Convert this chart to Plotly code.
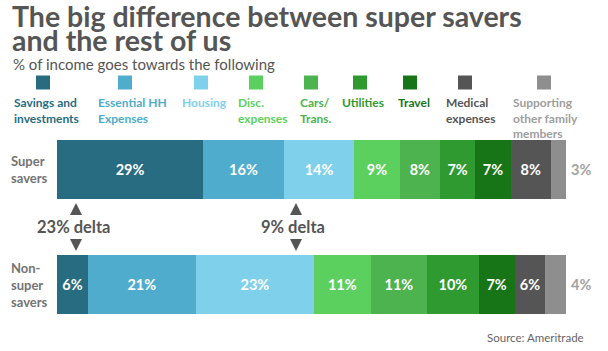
import plotly.graph_objects as go

categories = ["Savings and<br>investments", "Essential HH<br>Expenses", "Housing", "Disc.<br>expenses",
              "Cars/<br>Trans.", "Utilities", "Travel", "Medical<br>expenses",
              "Supporting<br>other family<br>members"]
rows = ["Super<br>savers", "Non-<br>super<br>savers"]
super_savers = [29, 16, 14, 9, 8, 7, 7, 8, 3]
non_super = [6, 21, 23, 11, 11, 10, 7, 6, 4]
colors = ["#276C80", "#4FACCC", "#7FD0EB", "#5CD05F", "#4DB34E", "#2E9A30", "#177517", "#555555", "#8E8E8E"]
label_colors = ["#276C80", "#4FACCC", "#7FD0EB", "#5CD05F", "#4DB34E", "#2E9A30", "#177517", "#555555", "#9E9E9E"]
title_lines = ["The big difference between super savers", "and the rest of us"]

W, H = 608, 351
ML, MR, MT, MB = 57, 42, 112, 9
PW, PH = W - ML - MR, H - MT - MB

def px(x):
    return (x - ML) / PW

def py(y):
    return (H - MB - y) / PH

FONT = "Lato, 'Open Sans', sans-serif"

fig = go.Figure()
n = len(categories)
for i in range(n):
    vals = [super_savers[i], non_super[i]]
    last = i == n - 1
    fig.add_trace(go.Bar(
        y=[0, 1], x=vals, orientation="h", name=categories[i],
        marker=dict(color=colors[i], line=dict(width=0)),
        text=None if last else [f"{v}%" for v in vals],
        texttemplate=None if last else "%{text}",
        textposition="none" if last else "inside",
        insidetextanchor="middle",
        textfont=dict(family=FONT, size=14.5, color="white", weight="bold"),
        cliponaxis=False, width=0.513, showlegend=False,
    ))

fig.update_layout(
    barmode="stack", barnorm="percent",
    width=W, height=H, margin=dict(l=ML, r=MR, t=MT, b=MB),
    paper_bgcolor="white", plot_bgcolor="white",
    xaxis=dict(range=[0, 100], visible=False, fixedrange=True),
    yaxis=dict(range=[1.5, -0.5], visible=False, fixedrange=True),
    font=dict(family=FONT),
)

ann = []
# Outside labels of last segment
last_vals = [super_savers[-1], non_super[-1]]
for r, v in enumerate(last_vals):
    ann.append(dict(text=f"<b>{v}%</b>", x=100, y=r, xref="x", yref="y", xanchor="left", yanchor="middle",
                    xshift=3, showarrow=False,
                    font=dict(family=FONT, size=14.5, color="#A3A3A3")))

# Title
for line, yc in zip(title_lines, [16, 40]):
    ann.append(dict(text=f"<b>{line}</b>",
                    x=px(10), y=py(yc), xref="paper", yref="paper", xanchor="left", yanchor="middle",
                    align="left", showarrow=False,
                    font=dict(family=FONT, size=28.5, color="#555555")))
ann.append(dict(text="% of income goes towards the following",
                x=px(11), y=py(64), xref="paper", yref="paper", xanchor="left", yanchor="middle",
                align="left", showarrow=False,
                font=dict(family=FONT, size=15, color="#555555")))

# Legend
sq_centers = [43, 125, 201, 256, 311, 360, 410, 465, 544]
text_starts = [12, 96, 180, 236, 298, 340, 396, 444, 511]
shapes = []
for i in range(n):
    cx = sq_centers[i]
    shapes.append(dict(type="rect", xref="paper", yref="paper",
                       x0=px(cx - 7), x1=px(cx + 7), y0=py(89.5), y1=py(75.5),
                       fillcolor=colors[i], line=dict(width=0)))
    ann.append(dict(text=f"<b>{categories[i]}</b>", x=px(text_starts[i]), y=py(93),
                    xref="paper", yref="paper", xanchor="left", yanchor="top", align="left",
                    showarrow=False,
                    font=dict(family=FONT, size=12, color=label_colors[i])))

# Row labels
for r, yc in zip(rows, [0, 1]):
    ann.append(dict(text=f"<b>{r}</b>", x=px(9), y=yc, xref="paper", yref="y", xanchor="left",
                    yanchor="middle", align="left", showarrow=False,
                    font=dict(family=FONT, size=13, color="#747474")))

# Delta markers
for cx, label in [(76, "23% delta"), (296, "9% delta")]:
    shapes.append(dict(type="path", xref="paper", yref="paper",
                       path=f"M {px(cx-6)} {py(215)} L {px(cx+6)} {py(215)} L {px(cx)} {py(203)} Z",
                       fillcolor="#555555", line=dict(width=0)))
    shapes.append(dict(type="path", xref="paper", yref="paper",
                       path=f"M {px(cx-6)} {py(239)} L {px(cx+6)} {py(239)} L {px(cx)} {py(251)} Z",
                       fillcolor="#555555", line=dict(width=0)))
    ann.append(dict(text=f"<b>{label}</b>", x=px(cx - 3), y=py(227), xref="paper", yref="paper",
                    xanchor="center", yanchor="middle", showarrow=False,
                    font=dict(family=FONT, size=16.5, color="#555555")))

ann.append(dict(text="Source: Ameritrade", x=px(586), y=py(337), xref="paper", yref="paper",
                xanchor="right", yanchor="middle", showarrow=False,
                font=dict(family=FONT, size=11.5, color="#666666")))

fig.update_layout(annotations=ann, shapes=shapes)
fig.write_html("out.html")
